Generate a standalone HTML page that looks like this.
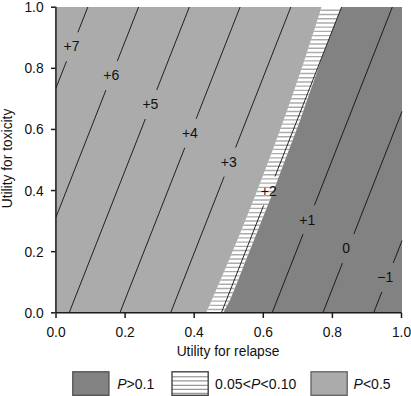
<!DOCTYPE html>
<html><head><meta charset="utf-8"><style>
html,body{margin:0;padding:0;background:#fff;width:411px;height:396px;overflow:hidden}
svg{display:block;font-family:"Liberation Sans",sans-serif}
</style></head><body>
<svg width="411" height="396" viewBox="0 0 411 396">
<rect x="56.0" y="7.0" width="346.0" height="305.8" fill="#828282"/>
<polygon points="56.00,7.00 321.40,7.00 318.96,14.84 316.49,22.68 313.99,30.52 311.47,38.36 308.91,46.21 306.34,54.05 303.73,61.89 301.10,69.73 298.44,77.57 295.75,85.41 293.04,93.25 290.30,101.09 287.53,108.93 284.73,116.77 281.91,124.62 279.06,132.46 276.19,140.30 273.28,148.14 270.35,155.98 267.40,163.82 264.41,171.66 261.40,179.50 258.36,187.34 255.30,195.18 252.20,203.03 249.08,210.87 245.94,218.71 242.76,226.55 239.56,234.39 236.33,242.23 233.08,250.07 229.80,257.91 226.49,265.75 223.15,273.59 219.79,281.44 216.40,289.28 212.98,297.12 209.54,304.96 206.07,312.80 56.00,312.80" fill="#ababab"/>
<clipPath id="bc"><polygon points="321.40,7.00 318.96,14.84 316.49,22.68 313.99,30.52 311.47,38.36 308.91,46.21 306.34,54.05 303.73,61.89 301.10,69.73 298.44,77.57 295.75,85.41 293.04,93.25 290.30,101.09 287.53,108.93 284.73,116.77 281.91,124.62 279.06,132.46 276.19,140.30 273.28,148.14 270.35,155.98 267.40,163.82 264.41,171.66 261.40,179.50 258.36,187.34 255.30,195.18 252.20,203.03 249.08,210.87 245.94,218.71 242.76,226.55 239.56,234.39 236.33,242.23 233.08,250.07 229.80,257.91 226.49,265.75 223.15,273.59 219.79,281.44 216.40,289.28 212.98,297.12 209.54,304.96 206.07,312.80 223.20,312.80 230.03,300.00 238.19,280.00 245.95,260.00 254.01,240.00 261.87,220.00 271.90,195.00 281.32,170.00 300.17,120.00 307.03,100.00 314.19,80.00 321.05,60.00 341.58,7.00"/></clipPath>
<polygon points="321.40,7.00 318.96,14.84 316.49,22.68 313.99,30.52 311.47,38.36 308.91,46.21 306.34,54.05 303.73,61.89 301.10,69.73 298.44,77.57 295.75,85.41 293.04,93.25 290.30,101.09 287.53,108.93 284.73,116.77 281.91,124.62 279.06,132.46 276.19,140.30 273.28,148.14 270.35,155.98 267.40,163.82 264.41,171.66 261.40,179.50 258.36,187.34 255.30,195.18 252.20,203.03 249.08,210.87 245.94,218.71 242.76,226.55 239.56,234.39 236.33,242.23 233.08,250.07 229.80,257.91 226.49,265.75 223.15,273.59 219.79,281.44 216.40,289.28 212.98,297.12 209.54,304.96 206.07,312.80 223.20,312.80 230.03,300.00 238.19,280.00 245.95,260.00 254.01,240.00 261.87,220.00 271.90,195.00 281.32,170.00 300.17,120.00 307.03,100.00 314.19,80.00 321.05,60.00 341.58,7.00" fill="#fff"/>
<g clip-path="url(#bc)" stroke="#ababab" stroke-width="1.4"><line x1="190" x2="350" y1="10.30" y2="10.30"/><line x1="190" x2="350" y1="14.52" y2="14.52"/><line x1="190" x2="350" y1="18.73" y2="18.73"/><line x1="190" x2="350" y1="22.95" y2="22.95"/><line x1="190" x2="350" y1="27.16" y2="27.16"/><line x1="190" x2="350" y1="31.38" y2="31.38"/><line x1="190" x2="350" y1="35.59" y2="35.59"/><line x1="190" x2="350" y1="39.81" y2="39.81"/><line x1="190" x2="350" y1="44.02" y2="44.02"/><line x1="190" x2="350" y1="48.24" y2="48.24"/><line x1="190" x2="350" y1="52.45" y2="52.45"/><line x1="190" x2="350" y1="56.67" y2="56.67"/><line x1="190" x2="350" y1="60.88" y2="60.88"/><line x1="190" x2="350" y1="65.10" y2="65.10"/><line x1="190" x2="350" y1="69.31" y2="69.31"/><line x1="190" x2="350" y1="73.53" y2="73.53"/><line x1="190" x2="350" y1="77.74" y2="77.74"/><line x1="190" x2="350" y1="81.96" y2="81.96"/><line x1="190" x2="350" y1="86.17" y2="86.17"/><line x1="190" x2="350" y1="90.39" y2="90.39"/><line x1="190" x2="350" y1="94.60" y2="94.60"/><line x1="190" x2="350" y1="98.82" y2="98.82"/><line x1="190" x2="350" y1="103.03" y2="103.03"/><line x1="190" x2="350" y1="107.25" y2="107.25"/><line x1="190" x2="350" y1="111.46" y2="111.46"/><line x1="190" x2="350" y1="115.68" y2="115.68"/><line x1="190" x2="350" y1="119.89" y2="119.89"/><line x1="190" x2="350" y1="124.11" y2="124.11"/><line x1="190" x2="350" y1="128.32" y2="128.32"/><line x1="190" x2="350" y1="132.54" y2="132.54"/><line x1="190" x2="350" y1="136.75" y2="136.75"/><line x1="190" x2="350" y1="140.97" y2="140.97"/><line x1="190" x2="350" y1="145.18" y2="145.18"/><line x1="190" x2="350" y1="149.40" y2="149.40"/><line x1="190" x2="350" y1="153.61" y2="153.61"/><line x1="190" x2="350" y1="157.83" y2="157.83"/><line x1="190" x2="350" y1="162.04" y2="162.04"/><line x1="190" x2="350" y1="166.26" y2="166.26"/><line x1="190" x2="350" y1="170.47" y2="170.47"/><line x1="190" x2="350" y1="174.69" y2="174.69"/><line x1="190" x2="350" y1="178.90" y2="178.90"/><line x1="190" x2="350" y1="183.12" y2="183.12"/><line x1="190" x2="350" y1="187.33" y2="187.33"/><line x1="190" x2="350" y1="191.55" y2="191.55"/><line x1="190" x2="350" y1="195.76" y2="195.76"/><line x1="190" x2="350" y1="199.98" y2="199.98"/><line x1="190" x2="350" y1="204.19" y2="204.19"/><line x1="190" x2="350" y1="208.41" y2="208.41"/><line x1="190" x2="350" y1="212.62" y2="212.62"/><line x1="190" x2="350" y1="216.84" y2="216.84"/><line x1="190" x2="350" y1="221.05" y2="221.05"/><line x1="190" x2="350" y1="225.27" y2="225.27"/><line x1="190" x2="350" y1="229.48" y2="229.48"/><line x1="190" x2="350" y1="233.70" y2="233.70"/><line x1="190" x2="350" y1="237.91" y2="237.91"/><line x1="190" x2="350" y1="242.13" y2="242.13"/><line x1="190" x2="350" y1="246.34" y2="246.34"/><line x1="190" x2="350" y1="250.56" y2="250.56"/><line x1="190" x2="350" y1="254.77" y2="254.77"/><line x1="190" x2="350" y1="258.99" y2="258.99"/><line x1="190" x2="350" y1="263.20" y2="263.20"/><line x1="190" x2="350" y1="267.42" y2="267.42"/><line x1="190" x2="350" y1="271.63" y2="271.63"/><line x1="190" x2="350" y1="275.85" y2="275.85"/><line x1="190" x2="350" y1="280.06" y2="280.06"/><line x1="190" x2="350" y1="284.28" y2="284.28"/><line x1="190" x2="350" y1="288.49" y2="288.49"/><line x1="190" x2="350" y1="292.70" y2="292.70"/><line x1="190" x2="350" y1="296.92" y2="296.92"/><line x1="190" x2="350" y1="301.13" y2="301.13"/><line x1="190" x2="350" y1="305.35" y2="305.35"/><line x1="190" x2="350" y1="309.56" y2="309.56"/><line x1="190" x2="350" y1="313.78" y2="313.78"/></g>
<g stroke="#111" stroke-width="0.9"><line x1="87.83" y1="7.00" x2="77.89" y2="32.30"/><line x1="66.49" y1="61.30" x2="56.00" y2="87.99"/><line x1="138.58" y1="7.00" x2="117.31" y2="61.13"/><line x1="105.91" y1="90.13" x2="56.00" y2="217.13"/><line x1="189.33" y1="7.00" x2="156.73" y2="89.96"/><line x1="145.33" y1="118.96" x2="69.15" y2="312.80"/><line x1="240.08" y1="7.00" x2="196.15" y2="118.79"/><line x1="184.75" y1="147.79" x2="119.90" y2="312.80"/><line x1="290.83" y1="7.00" x2="235.57" y2="147.62"/><line x1="224.17" y1="176.62" x2="170.65" y2="312.80"/><line x1="341.58" y1="7.00" x2="274.99" y2="176.45"/><line x1="263.59" y1="205.45" x2="221.40" y2="312.80"/><line x1="392.33" y1="7.00" x2="314.41" y2="205.28"/><line x1="303.01" y1="234.28" x2="272.15" y2="312.80"/><line x1="402.00" y1="111.53" x2="353.83" y2="234.11"/><line x1="342.43" y1="263.11" x2="322.90" y2="312.80"/><line x1="402.00" y1="240.66" x2="393.24" y2="262.94"/><line x1="381.85" y1="291.94" x2="373.65" y2="312.80"/></g>
<g font-size="14.0" fill="#111"><text x="71.60" y="50.61" text-anchor="middle">+7</text><text x="111.30" y="80.11" text-anchor="middle">+6</text><text x="150.40" y="109.11" text-anchor="middle">+5</text><text x="189.90" y="137.91" text-anchor="middle">+4</text><text x="228.80" y="167.01" text-anchor="middle">+3</text><text x="268.80" y="196.11" text-anchor="middle">+2</text><text x="307.30" y="224.71" text-anchor="middle">+1</text><text x="346.20" y="252.61" text-anchor="middle">0</text><text x="385.20" y="282.01" text-anchor="middle">−1</text></g>
<g stroke="#1a1a1a" stroke-width="1.5" fill="none">
<line x1="55.9" y1="6.8" x2="55.9" y2="312.8"/>
<line x1="56.0" y1="312.8" x2="401.5" y2="312.8"/>
<line x1="51.0" y1="312.80" x2="55.5" y2="312.80"/>
<line x1="56.00" y1="312.8" x2="56.00" y2="318.0"/>
<line x1="51.0" y1="251.68" x2="55.5" y2="251.68"/>
<line x1="125.10" y1="312.8" x2="125.10" y2="318.0"/>
<line x1="51.0" y1="190.56" x2="55.5" y2="190.56"/>
<line x1="194.20" y1="312.8" x2="194.20" y2="318.0"/>
<line x1="51.0" y1="129.44" x2="55.5" y2="129.44"/>
<line x1="263.30" y1="312.8" x2="263.30" y2="318.0"/>
<line x1="51.0" y1="68.32" x2="55.5" y2="68.32"/>
<line x1="332.40" y1="312.8" x2="332.40" y2="318.0"/>
<line x1="51.0" y1="7.20" x2="55.5" y2="7.20"/>
<line x1="401.50" y1="312.8" x2="401.50" y2="318.0"/>
</g>
<g font-size="13.8" fill="#111"><text x="43.6" y="317.74" text-anchor="end">0.0</text><text x="56.00" y="336.8" text-anchor="middle">0.0</text><text x="43.6" y="256.62" text-anchor="end">0.2</text><text x="125.10" y="336.8" text-anchor="middle">0.2</text><text x="43.6" y="195.50" text-anchor="end">0.4</text><text x="194.20" y="336.8" text-anchor="middle">0.4</text><text x="43.6" y="134.38" text-anchor="end">0.6</text><text x="263.30" y="336.8" text-anchor="middle">0.6</text><text x="43.6" y="73.26" text-anchor="end">0.8</text><text x="332.40" y="336.8" text-anchor="middle">0.8</text><text x="43.6" y="12.14" text-anchor="end">1.0</text><text x="401.50" y="336.8" text-anchor="middle">1.0</text></g>
<text x="228" y="355.7" text-anchor="middle" font-size="13.8" fill="#111">Utility for relapse</text>
<text transform="translate(12.1,158.5) rotate(-90)" text-anchor="middle" font-size="13.8" fill="#111">Utility for toxicity</text>
<rect x="72.8" y="371.8" width="36.1" height="23.5" fill="#828282" stroke="#555" stroke-width="1.4"/>
<rect x="172.0" y="371.8" width="36.2" height="23.5" fill="#fff"/>
<g stroke="#707070" stroke-width="0.9"><line x1="172" x2="208.2" y1="376.8" y2="376.8"/><line x1="172" x2="208.2" y1="380.9" y2="380.9"/><line x1="172" x2="208.2" y1="385.3" y2="385.3"/><line x1="172" x2="208.2" y1="389.3" y2="389.3"/><line x1="172" x2="208.2" y1="393.3" y2="393.3"/></g>
<rect x="172.0" y="371.8" width="36.2" height="23.5" fill="none" stroke="#444" stroke-width="1.4"/>
<rect x="311.0" y="371.8" width="36.2" height="23.5" fill="#ababab" stroke="#606060" stroke-width="1.3"/>
<g font-size="14.0" fill="#111">
<text x="117.2" y="389.0"><tspan font-style="italic">P</tspan>&gt;0.1</text>
<text x="215.0" y="389.0" letter-spacing="0.12">0.05&lt;<tspan font-style="italic">P</tspan>&lt;0.10</text>
<text x="353.6" y="389.0"><tspan font-style="italic">P</tspan>&lt;0.5</text>
</g>
</svg>
</body></html>
